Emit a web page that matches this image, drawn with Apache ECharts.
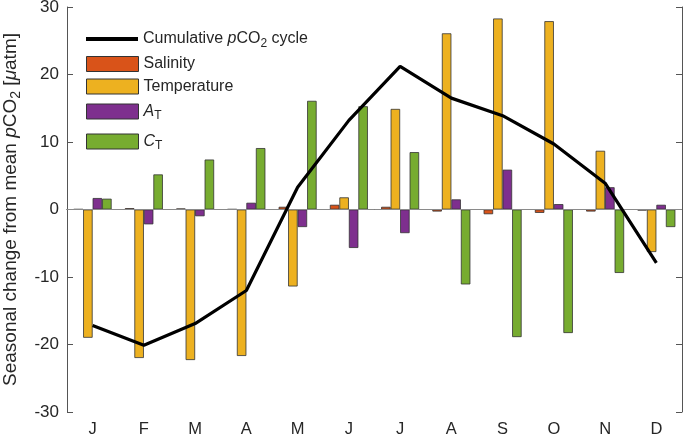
<!DOCTYPE html>
<html>
<head>
<meta charset="utf-8">
<script src="https://cdn.jsdelivr.net/npm/echarts@6/dist/echarts.min.js"></script>
<style>html,body{margin:0;padding:0;background:#fff}#c{width:685px;height:438px}</style>
</head>
<body>
<div id="c"></div>
<script>
const months = ['J','F','M','A','M','J','J','A','S','O','N','D'];
const yTicks = [-30,-20,-10,0,10,20,30];
const cumulative = [-17.2,-20.1,-16.9,-12.0,3.3,13.2,21.2,16.5,13.9,9.7,3.9,-7.9];
const salinity = [0.05,0.2,0.15,0.05,0.4,0.7,0.4,-0.3,-0.7,-0.5,-0.3,-0.15];
const temperature = [-19.0,-22.0,-22.3,-21.7,-11.4,1.8,14.9,26.1,28.3,27.9,8.7,-6.3];
const alkalinity = [1.7,-2.2,-1.0,1.0,-2.6,-5.7,-3.5,1.5,5.9,0.8,3.3,0.7];
const carbon = [1.6,5.2,7.4,9.1,16.1,15.3,8.5,-11.1,-18.9,-18.3,-9.4,-2.6];

const FONT = 'Liberation Sans';
const axisColor = '#555';
const textColor = '#262626';
function richSet(fs, subPad) {
  return {
    t: {fontFamily: FONT, fontSize: fs, color: textColor},
    i: {fontFamily: FONT, fontSize: fs, color: textColor, fontStyle: 'italic'},
    s: {fontFamily: FONT, fontSize: Math.round(fs * 0.72), color: textColor, padding: [subPad,0,0,0]}
  };
}
const legendRich = richSet(16, 9);
const titleRich = richSet(19, 11);
const labels = {
  'Cumulative': '{t|Cumulative }{i|p}{t|CO}{s|2}{t| cycle}',
  'Salinity': '{t|Salinity}',
  'Temperature': '{t|Temperature}',
  'AT': '{i|A}{s|T}',
  'CT': '{i|C}{s|T}'
};
function mkLegend(name, top, extra) {
  return Object.assign({
    data: [{name: name, icon: 'rect'}], left: 81, top: top, itemWidth: 52, itemHeight: 15, itemGap: 4,
    selectedMode: false, formatter: n => labels[n],
    itemStyle: {borderColor: '#333', borderWidth: 1},
    textStyle: {rich: legendRich, fontFamily: FONT, fontSize: 16, color: textColor}
  }, extra || {});
}
const barBase = {type: 'bar', barWidth: 9.5, barGap: '0%', barCategoryGap: '0%'};
const bstyle = c => ({color: c, borderColor: '#333', borderWidth: 0.8});

const chart = echarts.init(document.getElementById('c'), null, {renderer: 'canvas'});
chart.setOption({
  animation: false,
  backgroundColor: '#fff',
  grid: {left: 67, right: 3, top: 7, bottom: 26, containLabel: false, outerBoundsMode: 'none'},
  legend: [
    mkLegend('Cumulative', 26, {itemHeight: 4, itemStyle: {color: '#000', borderWidth: 0}}),
    mkLegend('Salinity', 51),
    mkLegend('Temperature', 73.5),
    mkLegend('AT', 98.5),
    mkLegend('CT', 128.5)
  ],
  xAxis: [
    {type: 'category', data: months, position: 'bottom',
     axisLine: {lineStyle: {color: axisColor, width: 1}},
     axisTick: {inside: true, length: 6, alignWithLabel: true, lineStyle: {color: axisColor}},
     axisLabel: {fontFamily: FONT, fontSize: 16.5, color: textColor, margin: 9}},
    {type: 'category', data: months, position: 'top',
     axisLine: {lineStyle: {color: axisColor, width: 1}},
     axisTick: {inside: true, length: 6, alignWithLabel: true, lineStyle: {color: axisColor}},
     axisLabel: {show: false}}
  ],
  yAxis: [
    {type: 'value', min: yTicks[0], max: yTicks[yTicks.length-1], interval: 10, position: 'left',
     axisLine: {show: true, lineStyle: {color: axisColor, width: 1}},
     axisTick: {show: true, inside: true, length: 6, lineStyle: {color: axisColor}},
     splitLine: {show: false},
     axisLabel: {fontFamily: FONT, fontSize: 17, color: textColor, margin: 8},
     name: '{t|Seasonal change from mean }{i|p}{t|CO}{s|2}{t| [}{i|μ}{t|atm]}',
     nameLocation: 'middle', nameGap: 34, nameRotate: 90,
     nameTextStyle: {rich: titleRich, fontFamily: FONT, fontSize: 19, color: textColor}},
    {type: 'value', min: yTicks[0], max: yTicks[yTicks.length-1], interval: 10, position: 'right',
     axisLine: {show: true, lineStyle: {color: axisColor, width: 1}},
     axisTick: {show: true, inside: true, length: 6, lineStyle: {color: axisColor}},
     splitLine: {show: false}, axisLabel: {show: false}}
  ],
  series: [
    Object.assign({}, barBase, {name: 'Salinity', data: salinity, itemStyle: bstyle('#D95319'),
      markLine: {silent: true, symbol: 'none', label: {show: false}, animation: false,
        lineStyle: {color: '#8a8a8a', width: 1, type: 'solid'}, data: [{yAxis: 0}]}}),
    Object.assign({}, barBase, {name: 'Temperature', data: temperature, itemStyle: bstyle('#EDB120')}),
    Object.assign({}, barBase, {name: 'AT', data: alkalinity, itemStyle: bstyle('#7E2F8E')}),
    Object.assign({}, barBase, {name: 'CT', data: carbon, itemStyle: bstyle('#77AC30')}),
    {name: 'Cumulative', type: 'line', data: cumulative, symbol: 'none', z: 10,
     lineStyle: {color: '#000', width: 3.2}, itemStyle: {color: '#000'}}
  ]
});
</script>
</body>
</html>
